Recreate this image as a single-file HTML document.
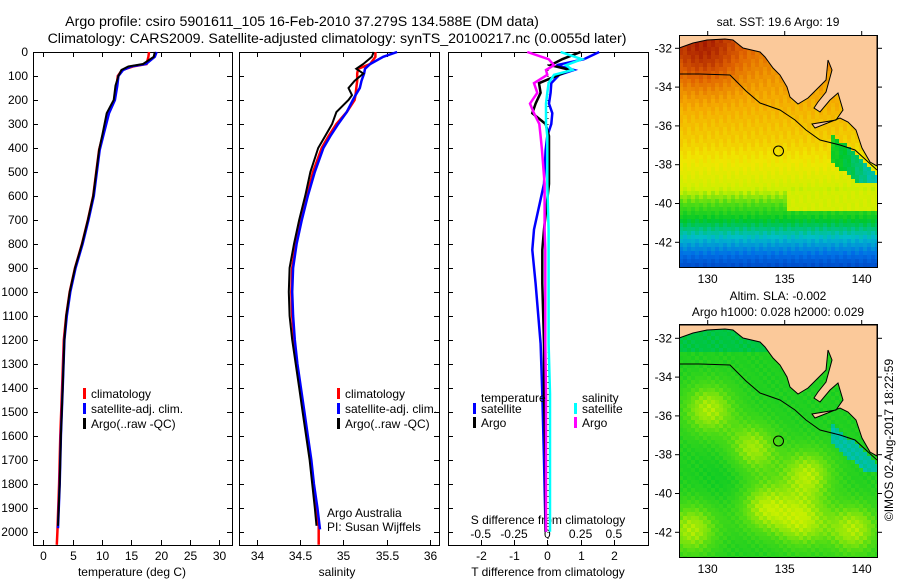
<!DOCTYPE html>
<html><head><meta charset="utf-8"><style>
body{margin:0;background:#fff}
svg{display:block}
text{font-family:"Liberation Sans",sans-serif;fill:#000}
</style></head><body>
<svg id="fig" width="900" height="580" viewBox="0 0 900 580">
<text x="302" y="26" font-size="14.2" text-anchor="middle">Argo profile: csiro 5901611_105 16-Feb-2010 37.279S 134.588E (DM data)</text>
<text x="337" y="43" font-size="14.2" text-anchor="middle">Climatology: CARS2009. Satellite-adjusted climatology: synTS_20100217.nc (0.0055d later)</text>
<g id="p1"></g>
<g id="p2"></g>
<g id="p3"></g>
<g id="m1"></g>
<g id="m2"></g>
<text x="778" y="26" font-size="12" text-anchor="middle">sat. SST: 19.6 Argo: 19</text>
<text x="778" y="300" font-size="12" text-anchor="middle">Altim. SLA: -0.002</text>
<text x="778" y="316" font-size="12" text-anchor="middle">Argo h1000: 0.028 h2000: 0.029</text>
<text transform="translate(893,440) rotate(-90)" font-size="12" text-anchor="middle">©IMOS 02-Aug-2017 18:22:59</text>
</svg>
<script>
// ---------- data ----------
const depthT = [0,20,50,60,75,100,140,200,255,340,408,505,600,700,800,900,1000,1100,1200,1400,1600,1800,2000];
const tempClim = [18.0,17.9,17.6,15.3,13.4,12.7,12.5,12.1,11.1,10.2,9.5,9.0,8.5,7.6,6.6,5.4,4.5,3.9,3.5,3.2,2.9,2.7,2.4];
const tempSat = [19.3,19.0,17.5,15.0,13.6,12.8,12.6,12.2,11.2,10.3,9.6,9.1,8.6,7.7,6.7,5.5,4.6,4.0,3.6,3.3,3.0,2.8,2.5];
const tempArgo = [19.0,18.8,17.0,14.5,13.3,12.8,12.3,12.0,10.8,10.1,9.5,9.0,8.5,7.6,6.6,5.4,4.5,3.9,3.6,3.3,3.0,2.8,2.5];
const depthS = [0,20,50,70,90,120,150,180,200,250,300,350,400,500,600,700,800,900,1000,1100,1200,1300,1400,1500,1600,1700,1800,1900,1975];
const salClim = [35.37,35.37,35.31,35.17,35.16,35.16,35.15,35.14,35.13,35.04,34.92,34.83,34.75,34.65,34.58,34.51,34.45,34.41,34.40,34.41,34.43,34.46,34.50,34.54,34.58,34.62,34.65,34.68,34.715];
const salSat = [35.62,35.46,35.31,35.25,35.24,35.21,35.19,35.14,35.11,35.04,34.94,34.85,34.77,34.67,34.59,34.52,34.46,34.42,34.41,34.42,34.44,34.47,34.51,34.55,34.59,34.63,34.66,34.70,34.73];
const salArgo = [35.35,35.33,35.23,35.15,35.23,35.13,35.06,35.10,35.06,34.92,34.87,34.79,34.71,34.62,34.56,34.49,34.43,34.38,34.37,34.38,34.41,34.45,34.49,34.53,34.57,34.61,34.64,34.67,34.69];
const depthD = [0,30,55,75,95,130,170,215,255,300,350,410,550,740,825,965,1215,1425,1700,2000];
const tdiffSat = [1.56,1.1,0.28,0.8,0.36,0.12,0.1,0.05,0.15,0.12,0.0,-0.05,-0.1,-0.4,-0.45,-0.35,-0.2,-0.15,-0.1,-0.05];
const tdiffArgo = [1.0,0.45,0.1,0.7,0.35,-0.25,-0.2,-0.35,-0.45,-0.05,0.05,0.05,0.05,-0.1,-0.15,-0.15,-0.1,-0.1,-0.05,-0.05];
const sdiffSat = [0.1,0.26,0.14,0.19,0.05,0.01,0.0,-0.01,-0.01,-0.01,0.0,0.0,0.0,0.01,0.01,0.01,0.01,0.02,0.02,0.02];
const sdiffArgo = [-0.15,0.01,0.05,-0.01,0.0,-0.1,-0.075,-0.13,-0.1,-0.06,-0.05,-0.04,-0.02,-0.02,-0.015,-0.015,-0.015,-0.01,-0.01,-0.01];
const depthTicks = [0,100,200,300,400,500,600,700,800,900,1000,1100,1200,1300,1400,1500,1600,1700,1800,1900,2000];
const tempTicks = [0,5,10,15,20,25,30];
const salTicks = [34,34.5,35,35.5,36];
const tdiffTicks = [-2,-1,0,1,2];
const sdiffTicks = [-0.5,-0.25,0,0.25,0.5];
const sdiffTickLabels = ["-0.5","-0.25","0","0.25","0.5"];
const lonTicks = [130,135,140];
const latTicks = [-32,-34,-36,-38,-40,-42];

// ---------- helpers ----------
const NS='http://www.w3.org/2000/svg';
function mk(parent,tag,attrs){const e=document.createElementNS(NS,tag);for(const k in attrs)e.setAttribute(k,attrs[k]);parent.appendChild(e);return e;}
const Y0=52, YS=0.2399;
const yD = d => Y0 + d*YS;
const xT = t => 43.3 + t*5.87;
const xS = s => 256.7 + (s-34)*86.65;
const xTd = t => 547.3 + t*33.3;
const xSd = s => 547.3 + s*133.2;

function frame(g,x0,x1,name){
  const r=mk(g,'rect',{x:x0+0.5,y:Y0+0.5,width:x1-x0,height:545-Y0,fill:'none',stroke:'#000','stroke-width':1});
  
  
  depthTicks.forEach(d=>{
    const y=Math.round(yD(d))+0.5;
    mk(g,'line',{x1:x0,x2:x0+5,y1:y,y2:y,stroke:'#000'});
    mk(g,'line',{x1:x1-5,x2:x1,y1:y,y2:y,stroke:'#000'});
  });
}
function xticks(g,vals,fx,labels,ly,name){
  vals.forEach((v,i)=>{
    const x=Math.round(fx(v))+0.5;
    mk(g,'line',{x1:x,x2:x,y1:Y0,y2:Y0+5,stroke:'#000'});
    mk(g,'line',{x1:x,x2:x,y1:540,y2:545,stroke:'#000'});
    if(ly){const t=mk(g,'text',{x:x,y:ly,'font-size':12,'text-anchor':'middle'});t.textContent=labels?labels[i]:v;
      
      }
  });
}
function line(g,xs,ds,fx,color,w,name){
  const pts=xs.map((v,i)=>fx(v).toFixed(1)+','+yD(ds[i]).toFixed(1)).join(' ');
  const p=mk(g,'polyline',{points:pts,fill:'none',stroke:color,'stroke-width':w,'stroke-linejoin':'miter'});
  
  
}
function legend(g,x,y,color,label,name){
  mk(g,'rect',{x:x,y:y-9,width:3,height:11,fill:color});
  const t=mk(g,'text',{x:x+8,y:y+1,'font-size':12});t.textContent=label;
  
  
}

// ---------- panel 1 ----------
const p1=document.getElementById('p1');
frame(p1,33,232,'temperature-panel');
depthTicks.forEach(d=>{const t=mk(p1,'text',{x:28,y:yD(d)+4,'font-size':12,'text-anchor':'end'});t.textContent=d;
  
  });
xticks(p1,tempTicks,xT,null,560,'temperature');
let t=mk(p1,'text',{x:132,y:576,'font-size':12,'text-anchor':'middle'});t.textContent='temperature (deg C)';


line(p1,tempClim.concat([2.3]),depthT.concat([2054]),xT,'#ff0000',2.5,'temperature-climatology-line');
line(p1,tempSat,depthT.map(d=>Math.min(d,1985)),xT,'#0000ff',2.5,'temperature-satellite-line');
line(p1,tempArgo,depthT.map(d=>Math.min(d,1975)),xT,'#000000',2,'temperature-argo-line');
legend(p1,83,397,'#ff0000','climatology','legend-climatology');
legend(p1,83,412,'#0000ff','satellite-adj. clim.','legend-satellite');
legend(p1,83,427,'#000','Argo(..raw -QC)','legend-argo');

// ---------- panel 2 ----------
const p2=document.getElementById('p2');
frame(p2,239,439,'salinity-panel');
xticks(p2,salTicks,xS,null,560,'salinity');
t=mk(p2,'text',{x:337,y:576,'font-size':12,'text-anchor':'middle'});t.textContent='salinity';


line(p2,salClim.concat([34.715]),depthS.concat([2054]),xS,'#ff0000',2.5,'salinity-climatology-line');
line(p2,salSat,depthS.map(d=>d===1975?1990:d),xS,'#0000ff',2.5,'salinity-satellite-line');
line(p2,salArgo,depthS,xS,'#000000',2,'salinity-argo-line');
legend(p2,337,397,'#ff0000','climatology','legend-climatology-2');
legend(p2,337,412,'#0000ff','satellite-adj. clim.','legend-satellite-2');
legend(p2,337,427,'#000','Argo(..raw -QC)','legend-argo-2');
t=mk(p2,'text',{x:327,y:517,'font-size':12});t.textContent='Argo Australia';


t=mk(p2,'text',{x:327,y:531,'font-size':12});t.textContent='PI: Susan Wijffels';



// ---------- panel 3 ----------
const p3=document.getElementById('p3');
frame(p3,448,648,'difference-panel');
xticks(p3,tdiffTicks,xTd,null,560,'t-difference');
sdiffTicks.forEach((v,i)=>{const tt=mk(p3,'text',{x:xSd(v),y:538,'font-size':12,'text-anchor':'middle'});tt.textContent=sdiffTickLabels[i];
  
  });
t=mk(p3,'text',{x:548,y:524,'font-size':12,'text-anchor':'middle'});t.textContent='S difference from climatology';


t=mk(p3,'text',{x:548,y:576,'font-size':12,'text-anchor':'middle'});t.textContent='T difference from climatology';


mk(p3,'line',{x1:548,x2:548,y1:Y0,y2:545,stroke:'#000','stroke-dasharray':'1,5'});
line(p3,tdiffSat,depthD,xTd,'#0000ff',2.5,'t-diff-satellite-line');
line(p3,tdiffArgo,depthD,xTd,'#000000',2.5,'t-diff-argo-line');
line(p3,sdiffArgo,depthD,xSd,'#ff00ff',2.5,'s-diff-argo-line');
line(p3,sdiffSat,depthD,xSd,'#00ffff',2.5,'s-diff-satellite-line');
t=mk(p3,'text',{x:481,y:402,'font-size':12});t.textContent='temperature';


t=mk(p3,'text',{x:582,y:402,'font-size':12});t.textContent='salinity';


legend(p3,473,412,'#0000ff','satellite','legend-t-satellite');
legend(p3,473,426,'#000','Argo','legend-t-argo');
legend(p3,574,412,'#00ffff','satellite','legend-s-satellite');
legend(p3,574,426,'#ff00ff','Argo','legend-s-argo');

// ---------- maps ----------
function jet(v){
  v=Math.max(0,Math.min(1,v));
  const stops=[[0,[0,40,170]],[0.18,[0,110,230]],[0.3,[0,190,200]],[0.42,[0,200,40]],[0.52,[80,220,20]],[0.6,[200,240,0]],[0.68,[240,230,0]],[0.78,[245,170,0]],[0.88,[225,100,0]],[1,[160,20,0]]];
  for(let i=1;i<stops.length;i++){if(v<=stops[i][0]){const a=stops[i-1],b=stops[i];const f=(v-a[0])/(b[0]-a[0]);return 'rgb('+a[1].map((c,k)=>Math.round(c+(b[1][k]-c)*f)).join(',')+')';}}
  return 'rgb(160,20,0)';
}
function coast(dy){
  const pts=[[679,48],[693,43],[707,40],[725,39],[733,40],[743,48],[760,52],[765,57],[773,68],[780,75],[787,87],[790,97],[798,104],[808,98],[818,88],[826,80],[828,60],[832,70],[826,92],[818,102],[814,108],[820,112],[830,100],[838,93],[843,110],[836,120],[812,124],[815,128],[840,118],[848,122],[856,130],[862,148],[870,162],[877,166],[877,35],[679,35]];
  return pts.map(p=>p[0]+','+(p[1]+dy)).join(' ');
}
const contourPts=[[679,74],[700,74],[730,75],[737,82],[746,91],[760,103],[780,110],[795,120],[806,130],[820,140],[840,145],[855,150],[866,160],[877,170]];
function drawMap(id,top,bottom,dy,field,name){
  const g=document.getElementById(id);
  const cid='clip'+id;
  const cp=mk(mk(g,'defs',{}),'clipPath',{id:cid});
  mk(cp,'rect',{x:679,y:top,width:198,height:bottom-top});
  const cg=mk(g,'g',{'clip-path':'url(#'+cid+')'});
  const step=4;
  for(let y=top;y<bottom;y+=step)for(let x=679;x<877;x+=step){
    mk(cg,'rect',{x:x,y:y,width:step+0.5,height:step+0.5,fill:jet(field(x,y))});
  }
  const land=mk(cg,'polygon',{points:coast(dy),fill:'#fbc99a',stroke:'#000','stroke-width':1});
  
  
  mk(cg,'polyline',{points:contourPts.map(p=>p[0]+','+(p[1]+dy)).join(' '),fill:'none',stroke:'#000','stroke-width':1});
  const c=mk(g,'circle',{cx:778.5,cy:151+dy,r:5,fill:'none',stroke:'#000','stroke-width':1});
  
  
  const fr=mk(g,'rect',{x:679.5,y:top+0.5,width:198,height:bottom-top,fill:'none',stroke:'#000'});
  
  
  lonTicks.forEach(l=>{const x=707.7+(l-130)*15.4;
    mk(g,'line',{x1:x,x2:x,y1:top-4,y2:top,stroke:'#000'});
    const tt=mk(g,'text',{x:x,y:bottom+16,'font-size':12,'text-anchor':'middle'});tt.textContent=l;
    
    });
  latTicks.forEach(l=>{const y=48.3+dy+(-32-l)*19.4;
    mk(g,'line',{x1:878,x2:882,y1:y,y2:y,stroke:'#000'});
    mk(g,'line',{x1:675,x2:679,y1:y,y2:y,stroke:'#000'});
    const tt=mk(g,'text',{x:672,y:y+4,'font-size':12,'text-anchor':'end'});tt.textContent=l;
    
    });
}
function coastY(x){ // approximate coast y along the map (shelf edge region)
  return 110+(x-800)*0.9;
}
function sst(x,y){
  let v;
  if(y<140)v=0.86-(y-35)/105*0.14;
  else if(y<185)v=0.72-(y-140)/45*0.1;
  else if(y<215)v=0.62-(y-185)/30*0.18;
  else v=0.44-(y-215)/52*0.36;
  const dc=Math.hypot(x-700,y-48);
  v+=0.13*Math.exp(-dc*dc/1500);
  if(y>188&&y<208&&x>785)v=Math.max(v,0.62);
  const cy=coastY(x);
  if(x>830&&y>cy-6&&y<cy+22&&y<180){v=0.45-(x-830)/47*0.15;}
  v+=0.015*Math.sin(x*0.7+y*1.3);
  return v;
}
const blobs=[[707,407],[750,447],[806,472],[852,527],[690,527],[762,505],[800,520]];
function sla(x,y){
  let v=0.46;
  blobs.forEach(b=>{const d=Math.hypot(x-b[0],y-b[1]);v+=0.12*Math.exp(-d*d/700);});
  v-=0.03*Math.exp(-Math.pow(Math.hypot(x-730,y-470),2)/900);
  const cy=coastY(x)+290;
  if(x>830&&y>cy-6&&y<cy+14&&y<470)v=0.33;
  if(y<350)v=0.40;
  v+=0.012*Math.sin(x*0.9+y*0.7);
  return v;
}
drawMap('m1',35,267,0,sst,'sst-map');
drawMap('m2',324,557,290,sla,'sla-map');
</script>
</body></html>
